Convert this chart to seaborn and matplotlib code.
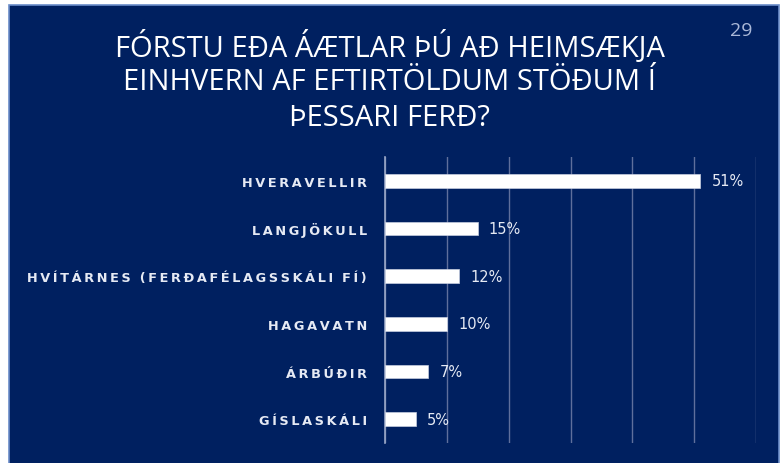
import matplotlib
matplotlib.use("Agg")
import matplotlib.pyplot as plt
import matplotlib.patches as mpatches
import seaborn as sns
import pandas as pd

# data
places = ["HVERAVELLIR", "LANGJÖKULL", "HVÍTÁRNES (FERÐAFÉLAGSSKÁLI FÍ)",
          "HAGAVATN", "ÁRBÚÐIR", "GÍSLASKÁLI"]
shares = [51, 15, 12, 10, 7, 5]
title_lines = ["FÓRSTU EÐA ÁÆTLAR ÞÚ AÐ HEIMSÆKJA",
               "EINHVERN AF EFTIRTÖLDUM STÖÐUM Í",
               "ÞESSARI FERÐ?"]
slide_no = "29"

NAVY = "#002060"
GRID = "#5f6f9c"


def spaced(text, gap="\u2009"):
    # fake letter spacing, words get a wider gap
    return "  ".join(gap.join(w) for w in text.split(" "))


df = pd.DataFrame({"place": places, "share": shares})

fig = plt.figure(figsize=(7.84, 4.64), dpi=100)
fig.patch.set_facecolor("white")

# navy slide panel
panel = mpatches.Rectangle((9 / 784, -0.01), 770 / 784, 1 - 6 / 464 + 0.01,
                           transform=fig.transFigure, facecolor=NAVY,
                           edgecolor="#6a8cc8", linewidth=1.2, zorder=-5)
fig.patches.append(panel)

ax = fig.add_axes([385 / 784, 20 / 464, 371 / 784, 286 / 464])
ax.set_facecolor("none")
ax.set_zorder(2)

sns.barplot(data=df, x="share", y="place", orient="h", color="white",
            width=0.29, edgecolor="#c8cfe0", linewidth=0.5, ax=ax, zorder=3)

ax.set_xlim(0, 60)
ax.set_xticks(range(0, 61, 10))
ax.set_axisbelow(True)
ax.xaxis.grid(True, color=GRID, linewidth=1.0)
ax.tick_params(axis="x", length=0, labelbottom=False)
ax.tick_params(axis="y", length=0, pad=13)
ax.set_xlabel("")
ax.set_ylabel("")
for side in ["top", "right", "bottom"]:
    ax.spines[side].set_visible(False)
ax.spines["left"].set_color("#9aa8c8")
ax.spines["left"].set_linewidth(1.2)

ax.set_yticks(range(len(places)))
ax.set_yticklabels([spaced(p) for p in places], fontsize=9.3,
                   fontweight="bold", color="#e6eaf4")

for i, v in enumerate(shares):
    ax.text(v + 1.8, i, f"{v}%", va="center", ha="left", fontsize=10.5,
            color="#e6eaf4", family="DejaVu Sans")

# title
for k, line in enumerate(title_lines):
    fig.text(0.497, 1 - (48 + 35 * k) / 464, line,
             ha="center", va="center", fontsize=21, color="white",
             family="Open Sans")

fig.text(741 / 784, 1 - 31 / 464, slide_no, ha="center", va="center",
         fontsize=14, color="#aab8d8", family="Open Sans")

fig.savefig("out.png", dpi=100)
